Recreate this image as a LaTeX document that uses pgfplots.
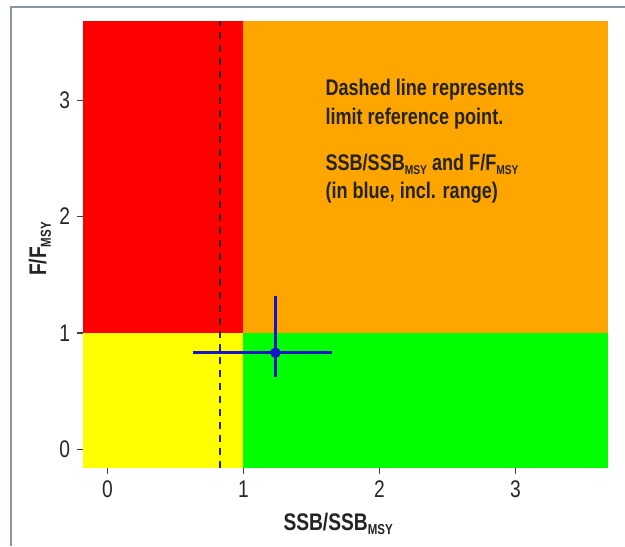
\documentclass[border=0pt]{standalone}
\usepackage{pgfplots}
\pgfplotsset{compat=1.18}
\usepackage{fontspec}
\setmainfont{Liberation Sans}[FakeStretch=0.8]
\usetikzlibrary{calc}
\definecolor{kred}{RGB}{255,0,0}
\definecolor{korange}{RGB}{255,165,0}
\definecolor{kyellow}{RGB}{255,255,0}
\definecolor{kgreen}{RGB}{0,255,0}
\definecolor{kblue}{RGB}{20,20,200}
\definecolor{txt}{RGB}{35,35,35}
\definecolor{frame}{RGB}{138,150,160}
% subscript MSY at a given size
\newcommand{\msy}[1]{\raisebox{-2.4pt}{\fontsize{#1}{#1}\selectfont MSY}}

\begin{document}
\begin{tikzpicture}
  \begin{axis}[name=ax, scale only axis, width=262.5pt, height=223.5pt,
      xmin=-0.18, xmax=3.68, ymin=-0.16, ymax=3.68,
      xtick={0,1,2,3}, ytick={0,1,2,3},
      axis line style={draw=none},
      tick align=outside, xtick pos=bottom, ytick pos=left,
      major tick length=3pt,
      tick style={draw=black!75, line width=0.6pt},
      ticklabel style={font=\fontsize{12}{12}\selectfont, text=black!85},
      /pgf/number format/assume math mode=true,
      xlabel={\bfseries SSB/SSB\msy{7.2}},
      ylabel={\bfseries F/F\msy{7.2}},
      xlabel style={at={(axis description cs:0.486,-0.125)}, anchor=center,
                    font=\fontsize{12}{12}\selectfont, text=txt},
      ylabel style={at={(axis description cs:-0.082,0.49)}, anchor=center,
                    font=\fontsize{12}{12}\selectfont, text=txt},
      clip=true]
    % status quadrants
    \addplot[fill=kred, draw=none] coordinates {(-0.18,1) (1,1) (1,3.68) (-0.18,3.68)} -- cycle;
    \addplot[fill=korange, draw=none] coordinates {(1,1) (3.68,1) (3.68,3.68) (1,3.68)} -- cycle;
    \addplot[fill=kyellow, draw=none] coordinates {(-0.18,-0.16) (1,-0.16) (1,1) (-0.18,1)} -- cycle;
    \addplot[fill=kgreen, draw=none] coordinates {(1,-0.16) (3.68,-0.16) (3.68,1) (1,1)} -- cycle;
    % limit reference point
    \addplot[black!85, line width=0.9pt, dash pattern=on 3.5pt off 3pt] coordinates {(0.83,-0.16) (0.83,3.68)};
    % current status with range
    \addplot[kblue, line width=1.7pt] coordinates {(0.63,0.83) (1.65,0.83)};
    \addplot[kblue, line width=1.7pt] coordinates {(1.235,0.62) (1.235,1.32)};
    \addplot[kblue, only marks, mark=*, mark size=2.4pt] coordinates {(1.235,0.83)};
    \node[anchor=north west, inner sep=0, align=left, text=txt,
          font=\bfseries\fontsize{11.3}{14.3}\selectfont]
      at (axis cs:1.6,3.18)
      {Dashed line represents\\limit reference point.\\[8.5pt]
       SSB/SSB\msy{6.4} and F/F\msy{6.4}\\(in blue, incl. range)};
  \end{axis}
  \draw[frame, line width=1pt] ($(ax.south west)+(-36pt,-39pt)$) |- ($(ax.north east)+(8.5pt,7pt)$);
  \pgfresetboundingbox
  \useasboundingbox ($(ax.south west)+(-41.5pt,-39pt)$) rectangle ($(ax.north east)+(8.5pt,10.5pt)$);
\end{tikzpicture}
\end{document}
